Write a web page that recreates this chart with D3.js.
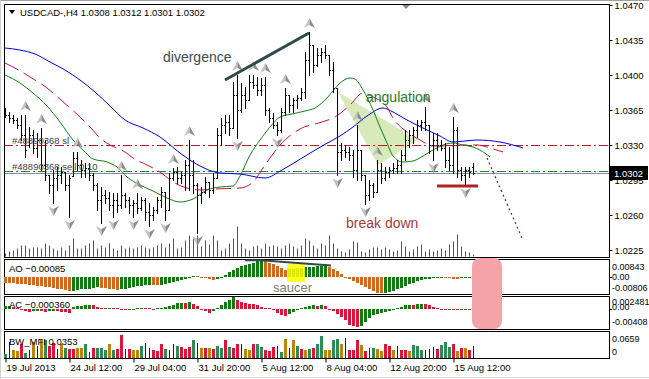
<!DOCTYPE html>
<html><head><meta charset="utf-8">
<script src="https://cdn.jsdelivr.net/npm/d3@7"></script>
<style>
html,body{margin:0;padding:0;background:#fff;}
svg{display:block;font-family:"Liberation Sans",Arial,sans-serif;}
</style></head><body>
<svg id="c" width="649" height="379"></svg>
<script>
// ---------------- DATA ----------------
const symbol = "USDCAD-,H4";
const lastOHLC = ["1.0308","1.0312","1.0301","1.0302"];
const timeLabels = ["19 Jul 2013","24 Jul 12:00","29 Jul 04:00","31 Jul 20:00","5 Aug 12:00","8 Aug 04:00","12 Aug 20:00","15 Aug 12:00"];
const timeLabelBars = [0,16,32,48,64,80,96,112];
const priceTicks = [1.0470,1.0435,1.0400,1.0365,1.0330,1.0295,1.0260,1.0225];

const high = [1.0367,1.0363,1.0360,1.0357,1.0360,1.0360,1.0348,1.0345,1.0342,1.0347,1.0335,1.0300,1.0305,1.0308,1.0308,1.0303,1.0300,1.0323,1.0323,1.0315,
1.0312,1.0312,1.0302,1.0292,1.0288,1.0285,1.0283,1.0282,1.0282,1.0300,1.0282,1.0278,1.0275,1.0282,1.0278,1.0277,1.0272,1.0268,1.0278,1.0288,
1.0283,1.0302,1.0307,1.0308,1.0303,1.0315,1.0335,1.0315,1.0292,1.0288,1.0298,1.0293,1.0302,1.0347,1.0357,1.0360,1.0360,1.0393,1.0400,1.0392,
1.0388,1.0400,1.0400,1.0398,1.0397,1.0398,1.0367,1.0362,1.0353,1.0367,1.0387,1.0380,1.0377,1.0380,1.0387,1.0423,1.0443,1.0430,1.0427,1.0427,
1.0430,1.0420,1.0413,1.0387,1.0332,1.0330,1.0328,1.0325,1.0350,1.0325,1.0300,1.0295,1.0292,1.0315,1.0312,1.0308,1.0308,1.0312,1.0315,1.0325,
1.0345,1.0345,1.0348,1.0355,1.0355,1.0368,1.0350,1.0342,1.0342,1.0335,1.0332,1.0328,1.0358,1.0348,1.0308,1.0308,1.0308,1.0312];
const low = [1.0358,1.0353,1.0352,1.0347,1.0335,1.0318,1.0328,1.0322,1.0318,1.0305,1.0295,1.0282,1.0272,1.0285,1.0292,1.0285,1.0258,1.0299,1.0305,1.0298,
1.0298,1.0295,1.0285,1.0265,1.0252,1.0272,1.0265,1.0258,1.0263,1.0267,1.0268,1.0262,1.0258,1.0262,1.0265,1.0255,1.0249,1.0255,1.0262,1.0268,
1.0255,1.0265,1.0295,1.0292,1.0292,1.0285,1.0285,1.0282,1.0242,1.0272,1.0282,1.0278,1.0282,1.0297,1.0330,1.0342,1.0340,1.0347,1.0337,1.0363,
1.0367,1.0375,1.0387,1.0380,1.0380,1.0360,1.0353,1.0347,1.0340,1.0343,1.0360,1.0363,1.0363,1.0367,1.0375,1.0377,1.0400,1.0403,1.0409,1.0413,
1.0417,1.0400,1.0383,1.0300,1.0315,1.0318,1.0315,1.0298,1.0295,1.0295,1.0271,1.0275,1.0278,1.0283,1.0292,1.0295,1.0298,1.0302,1.0302,1.0302,
1.0315,1.0328,1.0332,1.0338,1.0345,1.0345,1.0322,1.0315,1.0325,1.0325,1.0308,1.0305,1.0302,1.0298,1.0295,1.0290,1.0298,1.0301];
const open = [1.0365,1.0360,1.0357,1.0355,1.0350,1.0340,1.0330,1.0340,1.0327,1.0335,1.0310,1.0300,1.0290,1.0297,1.0300,1.0303,1.0290,1.0299,1.0317,1.0310,
1.0305,1.0307,1.0300,1.0290,1.0275,1.0280,1.0277,1.0270,1.0275,1.0270,1.0280,1.0275,1.0270,1.0272,1.0267,1.0275,1.0263,1.0260,1.0265,1.0275,
1.0283,1.0265,1.0297,1.0303,1.0297,1.0300,1.0310,1.0300,1.0290,1.0280,1.0283,1.0293,1.0285,1.0297,1.0340,1.0350,1.0353,1.0347,1.0380,1.0365,
1.0380,1.0375,1.0393,1.0390,1.0385,1.0390,1.0365,1.0357,1.0350,1.0345,1.0363,1.0380,1.0370,1.0375,1.0377,1.0383,1.0415,1.0430,1.0410,1.0420,
1.0423,1.0420,1.0405,1.0387,1.0323,1.0325,1.0323,1.0320,1.0305,1.0325,1.0300,1.0280,1.0290,1.0283,1.0305,1.0297,1.0303,1.0305,1.0307,1.0310,
1.0320,1.0335,1.0340,1.0345,1.0350,1.0353,1.0350,1.0330,1.0335,1.0330,1.0327,1.0315,1.0310,1.0345,1.0305,1.0300,1.0305,1.0308];
const close = [1.0360,1.0357,1.0355,1.0350,1.0340,1.0325,1.0340,1.0327,1.0335,1.0310,1.0300,1.0290,1.0297,1.0300,1.0303,1.0290,1.0297,1.0317,1.0310,1.0305,
1.0307,1.0300,1.0290,1.0275,1.0280,1.0277,1.0270,1.0275,1.0270,1.0280,1.0275,1.0270,1.0272,1.0267,1.0275,1.0263,1.0260,1.0265,1.0275,1.0283,
1.0265,1.0297,1.0303,1.0297,1.0300,1.0310,1.0300,1.0290,1.0280,1.0283,1.0293,1.0285,1.0297,1.0340,1.0350,1.0353,1.0347,1.0380,1.0365,1.0380,
1.0375,1.0393,1.0390,1.0385,1.0390,1.0365,1.0357,1.0350,1.0345,1.0363,1.0380,1.0370,1.0375,1.0377,1.0383,1.0415,1.0430,1.0410,1.0420,1.0423,
1.0420,1.0405,1.0387,1.0323,1.0325,1.0323,1.0320,1.0305,1.0325,1.0300,1.0280,1.0290,1.0283,1.0305,1.0297,1.0303,1.0305,1.0307,1.0310,1.0320,
1.0335,1.0340,1.0345,1.0350,1.0353,1.0350,1.0330,1.0335,1.0330,1.0327,1.0315,1.0310,1.0345,1.0305,1.0300,1.0305,1.0303,1.0302];
const volume = [300,500,600,800,1100,1100,800,900,900,800,1300,1100,800,600,900,600,1100,1800,800,800,
1100,1300,1600,800,1100,900,1300,800,600,1100,800,900,800,900,1100,900,800,900,1100,1300,
900,1300,1800,800,900,1600,2100,1800,2100,1000,1600,1200,2100,1600,600,800,1300,1800,3000,1300,
800,600,1000,1100,800,1300,1000,1100,1000,800,1100,1300,1000,800,1100,1800,1600,1100,800,1300,
1100,2100,1300,800,500,400,700,1500,1400,500,400,700,900,900,700,900,700,500,600,1500,
1000,500,700,1000,1200,500,700,500,600,800,600,1200,1500,2200,1000,500,400,200];

// Alligator (jaw / teeth / lips), [bar, price] (shifted forward)
const jaw = [[0,1.0427],[3.75,1.0425],[7.5,1.0421],[11.25,1.0413],[15,1.0405],[18.75,1.0395],[22.5,1.0383],[26.25,1.0369],[30,1.0355],[34.5,1.0347],
[38.75,1.0338],[43.75,1.0322],[48.75,1.0309],[53.75,1.0302],[58.75,1.0301],[65,1.0297],[69.25,1.0305],[74.25,1.0317],[79.25,1.0329],[83.75,1.0339],
[87,1.0348],[90.5,1.0359],[94.5,1.0367],[97,1.0363],[100.5,1.0355],[105.5,1.0345],[108.75,1.0339],[112,1.0333],[115,1.0334],[118,1.0335],[123.75,1.0333],[129.5,1.0327]];
const teeth = [[0,1.0412],[4.25,1.0403],[6.25,1.0398],[10.5,1.0387],[12,1.0382],[16.25,1.0367],[18.25,1.0360],[21.25,1.0348],[23.75,1.0337],[26.25,1.0330],
[30,1.0323],[32,1.0317],[35.5,1.0310],[38.75,1.0303],[42,1.0293],[45.5,1.0287],[48.75,1.0285],[52.5,1.0286],[58.75,1.0287],[62,1.0293],
[65,1.0310],[68.75,1.0330],[73.75,1.0346],[79.25,1.0353],[82.5,1.0358],[86.25,1.0370],[89.5,1.0382],[92,1.0378],[95.5,1.0368],[97,1.0357],
[100.5,1.0343],[103.75,1.0335],[107,1.0329],[111.25,1.0329],[115,1.0330],[118,1.0330],[121.25,1.0327],[124.5,1.0323]];
const lips = [[0,1.0400],[3.75,1.0392],[7,1.0382],[10.5,1.0369],[13.75,1.0353],[17,1.0335],[19.5,1.0325],[22,1.0316],[25.5,1.0313],[28,1.0308],
[30.5,1.0298],[33.75,1.0290],[37,1.0284],[40.5,1.0277],[43.75,1.0273],[47,1.0276],[50.5,1.0285],[53.75,1.0288],[57,1.0289],[58.75,1.0299],
[61.25,1.0320],[63.75,1.0335],[66.25,1.0348],[68.75,1.0358],[71.75,1.0361],[75,1.0364],[77.5,1.0367],[80.5,1.0377],[83.75,1.0392],[86.25,1.0397],
[87.5,1.0396],[89.5,1.0385],[92,1.0365],[93.75,1.0348],[95.5,1.0332],[97,1.0319],[99.5,1.0313],[102,1.0314],[104.5,1.0319],[107,1.0325],
[109.5,1.0330],[112,1.0332],[114.5,1.0330],[117,1.0328],[118.75,1.0325],[121.25,1.0318]];

const fractalsUp = [5,9,18,29,33,42,46,58,62,65,70,76,88,93,105,112];
const fractalsDown = [12,16,24,27,32,36,40,48,58,68,83,90,107,115];

const ao = [-0.0028,-0.0030,-0.0031,-0.0033,-0.0035,-0.0037,-0.0039,-0.0041,-0.0043,-0.0046,-0.0049,-0.0052,-0.0055,-0.0058,-0.0062,-0.0066,-0.0070,
-0.0068,-0.0065,-0.0062,-0.0060,-0.0058,-0.0055,-0.0052,-0.0054,-0.0057,-0.0059,-0.0062,-0.0064,-0.0062,-0.0059,-0.0055,-0.0050,-0.0046,-0.0043,-0.0040,-0.0038,
-0.0040,-0.0042,-0.0039,-0.0035,-0.0030,-0.0025,-0.0020,-0.0015,-0.0008,0.0001,0.0006,0.0004,-0.0001,-0.0007,-0.0012,-0.0015,-0.0010,0.0001,0.0011,0.0024,
0.0034,0.0044,0.0053,0.0060,0.0066,0.0071,0.0080,0.00843,0.0082,0.0072,0.0063,0.0054,0.0045,0.0036,0.0038,0.0041,0.0043,0.0045,0.0048,0.0050,0.0052,0.0054,
0.0057,0.0060,0.0050,0.0040,0.0030,0.0016,0.0001,-0.0010,-0.0020,-0.0030,-0.0040,-0.0050,-0.0060,-0.0068,-0.0078,-0.00806,-0.0079,-0.0074,-0.0068,-0.0062,
-0.0056,-0.0046,-0.0036,-0.0030,-0.0021,-0.0015,-0.0011,-0.0008,-0.0005,-0.0003,-0.0001,-0.0003,-0.0006,-0.0008,-0.0009,-0.0007,-0.0005,-0.0004,-0.00085];
const ac = [0.00055,0.00066,0.00044,0.00022,-0.00022,-0.00044,-0.00066,-0.00055,-0.00044,-0.00055,-0.00066,-0.00055,-0.00044,-0.00055,-0.00066,-0.00077,-0.00088,
0.00033,0.00055,0.00066,0.00077,0.00088,0.00077,0.00044,0.00022,0.00011,0.00015,0.00011,0.00007,-0.00011,-0.00022,-0.00018,-0.00024,0.00007,0.00015,0.00011,
0.00004,0.00000,0.00009,0.00022,0.00037,0.00055,0.00088,0.00121,0.00132,0.00121,0.00143,0.00099,0.00055,-0.00011,-0.00055,-0.00088,-0.00055,0.00011,0.00077,
0.00143,0.00187,0.00248,0.00187,0.00143,0.00121,0.00110,0.00099,0.00077,0.00044,0.00022,0.00011,-0.00033,-0.00099,-0.00143,-0.00154,-0.00110,-0.00077,-0.00033,
0.00011,0.00033,0.00055,0.00077,0.00066,0.00077,0.00055,-0.00007,-0.00055,-0.00110,-0.00187,-0.00253,-0.00352,-0.00395,-0.00408,-0.00390,-0.00297,-0.00209,
-0.00143,-0.00110,-0.00088,-0.00066,-0.00044,-0.00022,0.00011,0.00044,0.00077,0.00088,0.00084,0.00099,0.00110,0.00103,0.00088,0.00044,0.00011,-0.00011,
-0.00022,-0.00011,-0.00022,-0.00033,-0.00018,-0.00007,-0.00015,-0.00036];
const mfi = [0.009,0.045,0.021,0.018,0.039,0.012,0.021,0.045,0.033,0.051,0.051,0.033,0.042,0.024,0.039,0.027,0.024,0.024,0.027,0.027,
0.039,0.015,0.027,0.027,0.027,0.021,0.039,0.021,0.024,0.066,0.024,0.024,0.021,0.021,0.033,0.042,0.027,0.021,0.018,0.039,
0.024,0.021,0.039,0.033,0.030,0.024,0.030,0.051,0.042,0.027,0.027,0.027,0.024,0.033,0.027,0.051,0.030,0.027,0.039,0.039,
0.024,0.021,0.039,0.039,0.030,0.021,0.018,0.030,0.033,0.015,0.054,0.027,0.051,0.033,0.024,0.021,0.024,0.027,0.039,0.0659,
0.021,0.021,0.051,0.054,0.039,0.057,0.021,0.021,0.051,0.036,0.018,0.027,0.027,0.024,0.018,0.039,0.033,0.021,0.033,0.021,
0.021,0.018,0.036,0.033,0.021,0.021,0.024,0.030,0.024,0.036,0.045,0.030,0.039,0.018,0.027,0.027,0.021,0.0353];
// g = up/up, o = down/down, r = down MFI / up vol, b = up MFI / down vol
const mfiState = "gboorgbobogrrbogrroogbrgggogrrbroogbbrrrgbbgrrrgbororggrgrrboorggrrrbgobogrogrggooggobrrrorbgoorrobrrogggbbbrgggrororb".split("");

// annotations (bar index, value)
const levels = {sl:1.0330, order:1.0304, bid:1.0302};
const divergenceLine = [[55,1.0395],[76,1.0442]];
const angulationWedge = [[83.25,1.0383],[103.25,1.0335],[93.25,1.0310]];
const supportLine = [[108,1.0289],[118.25,1.0289]];
const projection = [[120.5,1.0317],[129.25,1.0237]];
const notes = [
  {t:"divergence", i:39.5, p:1.0413, c:"#3b4d4d"},
  {t:"angulation", i:90.25, p:1.0373, c:"#1f7a1f"},
  {t:"break down", i:85.25, p:1.0247, c:"#a83a3a"}
];
const aoDivLine = [[60,0.0084],[64,0.0084],[81.5,0.0057]];
const saucerBox = {i0:70.5, i1:75, v0:0.0065, v1:-0.0025};
const saucerText = {i:67, v:-0.0075};
const pinkZone = {i0:116.75, i1:124.25};
const shiftMarkerBar = 100;

// ---------------- LAYOUT ----------------
const svg = d3.select("#c");
const PL = 4, PR = 609;
const main = {top:4, bot:257};
const aoP = {top:259, bot:294};
const acP = {top:296, bot:329};
const mfP = {top:331, bot:358};

const x = d3.scaleLinear().domain([0,117]).range([5,473]);
const y = d3.scaleLinear().domain([1.0225,1.0470]).range([250,5]);
const yVol = d3.scaleLinear().domain([0,3000]).range([256.5,226.5]);
const yAO = d3.scaleLinear().domain([-0.0085,0.0085]).range([294,260]);
const yAC = d3.scaleLinear().domain([-0.00462,0.00275]).range([329.5,296]);
const yMF = d3.scaleLinear().domain([0,0.0659]).range([357.5,335.5]);

svg.append("rect").attr("width",649).attr("height",379).attr("fill","#fff");
svg.append("line").attr("x1",0).attr("x2",649).attr("y1",0.5).attr("y2",0.5).attr("stroke","#a0a0a0");
svg.append("line").attr("x1",0.5).attr("x2",0.5).attr("y1",0).attr("y2",379).attr("stroke","#d0d0d0");
svg.append("line").attr("x1",0).attr("x2",649).attr("y1",377.5).attr("y2",377.5).attr("stroke","#d8d8d8");

const defs = svg.append("defs");
defs.append("clipPath").attr("id","cm").append("rect").attr("x",PL+1).attr("y",main.top+1).attr("width",PR-PL-1).attr("height",main.bot-main.top-1);

const gm = svg.append("g").attr("clip-path","url(#cm)");

// wedge
gm.append("path").attr("d", d3.line().x(d=>x(d[0])).y(d=>y(d[1]))(angulationWedge)+"Z")
  .attr("fill","#d5e8b2").attr("opacity",0.9);

// volumes
gm.append("g").selectAll("line").data(volume).join("line")
  .attr("x1",(d,i)=>x(i)+0.5).attr("x2",(d,i)=>x(i)+0.5)
  .attr("y1",yVol(0)).attr("y2",d=>yVol(d)).attr("stroke","#1f7a1f").attr("stroke-width",1);

// levels
const lvl = (p,col,dash)=>gm.append("line").attr("x1",PL).attr("x2",PR).attr("y1",Math.round(y(p))+0.5).attr("y2",Math.round(y(p))+0.5)
  .attr("stroke",col).attr("stroke-width",1).attr("stroke-dasharray",dash);
lvl(levels.sl,"#b22222","9,3,2,3");
lvl(levels.order,"#1e8c1e","9,3,2,3");
lvl(levels.bid,"#8090a0",null);

// alligator
const ln = d3.line().x(d=>x(d[0])).y(d=>y(d[1])).curve(d3.curveMonotoneX);
gm.append("path").attr("d",ln(jaw)).attr("fill","none").attr("stroke","#0000e0").attr("stroke-width",1);
gm.append("path").attr("d",ln(teeth)).attr("fill","none").attr("stroke","#c8143c").attr("stroke-width",1).attr("stroke-dasharray","15,6");
gm.append("path").attr("d",ln(lips)).attr("fill","none").attr("stroke","#108010").attr("stroke-width",1);

// OHLC bars
const bars = gm.append("g").attr("stroke","#000").attr("shape-rendering","crispEdges");
high.forEach((h,i)=>{
  const cx = x(i)+0.5;
  const hi = Math.max(h,open[i],close[i]), lo = Math.min(low[i],open[i],close[i]);
  bars.append("line").attr("x1",cx).attr("x2",cx).attr("y1",Math.round(y(hi))).attr("y2",Math.round(y(lo))+1);
  bars.append("line").attr("x1",cx-1.5).attr("x2",cx).attr("y1",Math.round(y(open[i]))+0.5).attr("y2",Math.round(y(open[i]))+0.5);
  bars.append("line").attr("x1",cx).attr("x2",cx+1.5).attr("y1",Math.round(y(close[i]))+0.5).attr("y2",Math.round(y(close[i]))+0.5);
});

// fractals
function arrow(g,cx,cy,up){
  const s = up?1:-1;
  g.append("path").attr("d",`M${cx},${cy-5*s} L${cx},${cy+2*s} L${cx-5.5},${cy+5*s} Z`).attr("fill","#c4c4c4");
  g.append("path").attr("d",`M${cx},${cy-5*s} L${cx+5.5},${cy+5*s} L${cx},${cy+2*s} Z`).attr("fill","#8c8c8c");
}
const gf = gm.append("g");
fractalsUp.forEach(i=>arrow(gf,x(i)+0.5,y(high[i])-9,true));
fractalsDown.forEach(i=>arrow(gf,x(i)+0.5,y(low[i])+8,false));

// annotations
gm.append("path").attr("d",d3.line().x(d=>x(d[0])).y(d=>y(d[1]))(divergenceLine)).attr("stroke","#2f4a4a").attr("stroke-width",3).attr("fill","none");
gm.append("path").attr("d",d3.line().x(d=>x(d[0])).y(d=>y(d[1]))(supportLine)).attr("stroke","#b22222").attr("stroke-width",3).attr("fill","none");
gm.append("path").attr("d",d3.line().x(d=>x(d[0])).y(d=>y(d[1]))(projection)).attr("stroke","#8b1a1a").attr("stroke-width",1.2).attr("stroke-dasharray","2,3").attr("fill","none");
notes.forEach(n=>gm.append("text").attr("x",x(n.i)).attr("y",y(n.p)).attr("fill",n.c).attr("font-size",14).text(n.t));
gm.append("text").attr("x",12).attr("y",Math.round(y(levels.sl))-1).attr("font-size",9.5).attr("fill","#404040").text("#48890368 sl");
gm.append("text").attr("x",12).attr("y",Math.round(y(levels.order))-1).attr("font-size",9.5).attr("fill","#404040").text("#48890368 sell 0.10");

// shift marker
const sx = x(shiftMarkerBar)+1;
svg.append("path").attr("d",`M${sx-5},4 L${sx+5},4 L${sx},9 Z`).attr("fill","#8a8a8a");

// header
svg.append("path").attr("d","M9,10 L15,10 L12,14 Z").attr("fill","#000");
svg.append("text").attr("x",20).attr("y",16).attr("font-size",9.5).attr("fill","#000")
  .text(symbol+"  "+lastOHLC.join(" "));

// panels borders
[main,aoP,acP,mfP].forEach(p=>svg.append("rect").attr("x",PL+0.5).attr("y",p.top+0.5).attr("width",PR-PL).attr("height",p.bot-p.top)
  .attr("fill","none").attr("stroke","#000").attr("stroke-width",1));

// price axis
const pa = svg.append("g").attr("transform",`translate(${PR+0.5},0)`)
  .call(d3.axisRight(y).tickValues(priceTicks).tickFormat(d3.format(".4f")).tickSize(3).tickPadding(2));
pa.select(".domain").remove();
pa.selectAll("text").attr("font-size",9.5).attr("font-family","Liberation Sans, Arial").attr("fill","#000");
// bid box
svg.append("rect").attr("x",610).attr("y",Math.round(y(levels.bid))-7).attr("width",38).attr("height",14).attr("fill","#000");
svg.append("text").attr("x",614).attr("y",Math.round(y(levels.bid))+4).attr("font-size",9.5).attr("fill","#fff").text(d3.format(".4f")(levels.bid));

// AO
const bw = 3;
const gao = svg.append("g").attr("shape-rendering","crispEdges");
ao.forEach((v,i)=>{
  const up = i===0 ? false : v>ao[i-1];
  const y0 = yAO(0), y1 = yAO(v);
  gao.append("rect").attr("x",x(i)-1).attr("width",bw).attr("y",Math.min(y0,y1)).attr("height",Math.max(1,Math.abs(y1-y0)))
    .attr("fill",up?"#117a11":"#d2691e");
});
// saucer box
svg.append("rect").attr("x",x(saucerBox.i0)).attr("width",x(saucerBox.i1)-x(saucerBox.i0))
  .attr("y",yAO(saucerBox.v0)).attr("height",yAO(saucerBox.v1)-yAO(saucerBox.v0)).attr("fill","#ffff00").attr("opacity",0.85);
// redraw bars over the saucer highlight
ao.forEach((v,i)=>{
  if(x(i)<x(saucerBox.i0)-2||x(i)>x(saucerBox.i1)) return;
  const up = v>ao[i-1];
  gao.append("rect").attr("x",x(i)-1).attr("width",bw).attr("y",Math.min(yAO(0),yAO(v))).attr("height",Math.max(1,Math.abs(yAO(v)-yAO(0))))
    .attr("fill",up?"#117a11":"#d2691e").attr("opacity",0.9);
});
svg.append("path").attr("d",d3.line().x(d=>x(d[0])).y(d=>yAO(d[1]))(aoDivLine)).attr("stroke","#2f4a4a").attr("stroke-width",2).attr("fill","none");
svg.append("text").attr("x",x(saucerText.i)).attr("y",yAO(saucerText.v)).attr("font-size",13).attr("fill","#80806a").text("saucer");

// AC
const gac = svg.append("g").attr("shape-rendering","crispEdges");
ac.forEach((v,i)=>{
  const up = i===0 ? true : v>ac[i-1];
  const y0 = yAC(0), y1 = yAC(v);
  gac.append("rect").attr("x",x(i)-1).attr("width",bw).attr("y",Math.min(y0,y1)).attr("height",Math.max(1,Math.abs(y1-y0)))
    .attr("fill",up?"#117a11":"#dc143c");
});

// MFI
const mfCol = {g:"#2e8b57", o:"#b8860b", r:"#dc143c", b:"#1010a0"};
const gmf = svg.append("g").attr("shape-rendering","crispEdges");
mfi.forEach((v,i)=>{
  const s = mfiState[i];
  const w = s==="b"?1:3;
  gmf.append("rect").attr("x",s==="b"?x(i):x(i)-1).attr("width",w).attr("y",yMF(v)).attr("height",yMF(0)-yMF(v)).attr("fill",mfCol[s]);
});

// pink zone
svg.append("rect").attr("x",x(pinkZone.i0)).attr("width",x(pinkZone.i1)-x(pinkZone.i0))
  .attr("y",aoP.top-1).attr("height",acP.bot-aoP.top+1).attr("rx",8).attr("fill","#f4a4a8");

// indicator titles
const title = (t,yy)=>svg.append("text").attr("x",9).attr("y",yy).attr("font-size",9.5).attr("fill","#000").text(t);
title("AO "+d3.format(".5f")(ao[ao.length-1]),272);
title("AC "+d3.format(".6f")(ac[ac.length-1]),308);
title("BW_MFI "+d3.format(".4f")(mfi[mfi.length-1]),345);

// sub-panel scale labels
const sl = (txt,yy)=>svg.append("text").attr("x",612).attr("y",yy).attr("dy","0.32em").attr("font-size",9).attr("fill","#000").text(txt);
sl("0.00843",yAO(0.00843)+7); sl("0.00",yAO(0)); sl("-0.00806",yAO(-0.00806)-5);
sl("0.002481",yAC(0.002481)+5); sl("0.00",yAC(0)-1); sl("-0.00408",yAC(-0.00408)-5);
sl("0.0659",yMF(0.0659)+4); sl("0",yMF(0)-5);
[yAO(0),yAC(0)].forEach(v=>svg.append("line").attr("x1",PR).attr("x2",PR+3).attr("y1",Math.round(v)+0.5).attr("y2",Math.round(v)+0.5).attr("stroke","#000"));

// time axis
const ta = svg.append("g").attr("transform",`translate(0,${mfP.bot+0.5})`)
  .call(d3.axisBottom(x).tickValues(timeLabelBars).tickFormat((d,k)=>timeLabels[k]).tickSize(4).tickPadding(2));
ta.select(".domain").remove();
ta.selectAll(".tick line").attr("transform","translate(0.5,0)");
ta.selectAll("text").attr("text-anchor","start").attr("x",1).attr("font-size",9.5).attr("font-family","Liberation Sans, Arial").attr("fill","#000");
</script>
</body></html>
